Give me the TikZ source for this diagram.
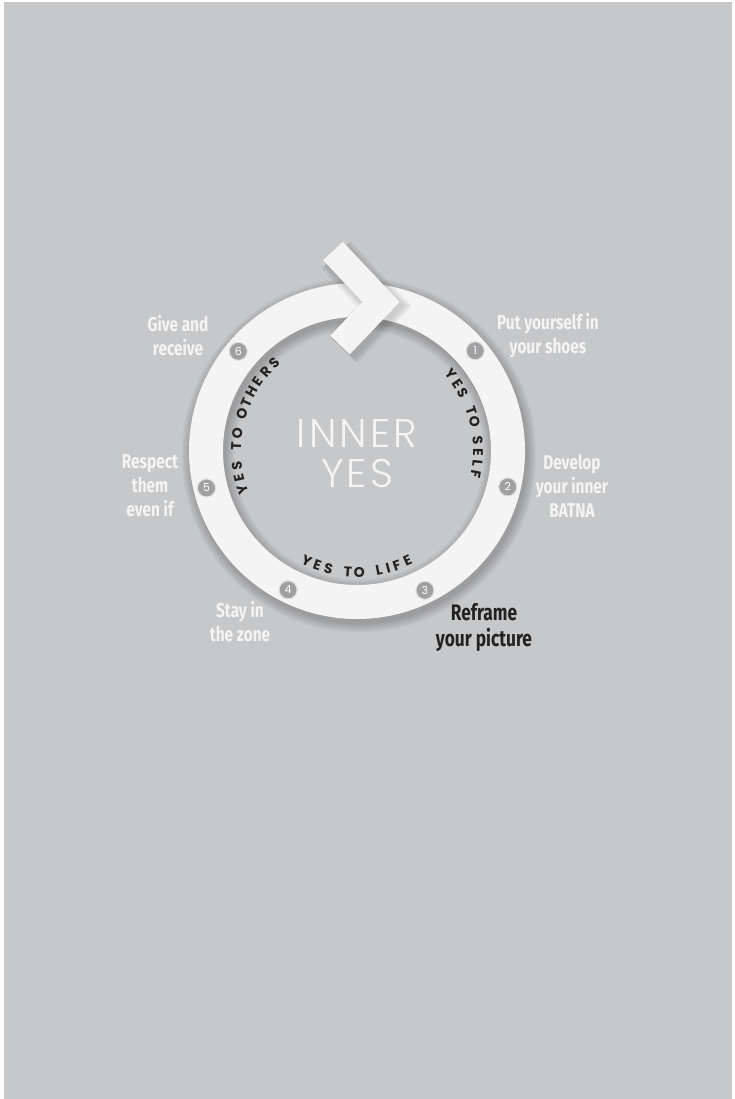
\documentclass[tikz,border=0pt]{standalone}
\usepackage{fontspec}
\setmainfont{Fira Sans}
\newfontfamily\labfont[FakeStretch=0.77]{Fira Sans}
\newfontfamily\thinfont[LetterSpace=8]{Poppins Light}
\newfontfamily\arcfont{Poppins}
\definecolor{bg}{RGB}{199,200,202}
\definecolor{ringwhite}{RGB}{244,244,244}
\definecolor{labwhite}{RGB}{244,244,244}
\definecolor{numgray}{RGB}{160,160,162}
\definecolor{darktext}{RGB}{34,34,34}
\tikzset{
  numdot/.style={circle, fill=numgray, draw=white!65!numgray, line width=1pt, text=white,
    inner sep=0pt, minimum size=18pt, font=\arcfont\fontsize{11}{11}\selectfont},
  lab/.style={text=labwhite, align=center, inner sep=0pt,
    font=\labfont\bfseries\fontsize{20}{24}\selectfont},
  labdark/.style={text=darktext, align=center, inner sep=0pt,
    font=\labfont\bfseries\fontsize{22.5}{26}\selectfont},
  arcl/.style={text=darktext, inner sep=0pt, anchor=center,
    font=\arcfont\bfseries\fontsize{14}{14}\selectfont},
  center/.style={text=labwhite, inner sep=0pt, font=\thinfont\fontsize{40}{42}\selectfont},
  shadowstroke/.style={black, opacity=0.028}
}
\begin{document}
\begin{tikzpicture}[x=1pt,y=1pt]
\useasboundingbox (-357,-648) rectangle (378,451);
\fill[white] (-357,-648) rectangle (378,451);
\fill[bg] (-353,-648) rectangle (375,449);
% ring shadow
\foreach \k in {1,...,8}
  \draw[shadowstroke, line width={33+2.5*\k}] (2,-4) circle (151);
% ring
\draw[ringwhite, line width=34] (0,0) circle (151);
% arrowhead shadow
\foreach \k in {1,...,6}
  \draw[shadowstroke, line width={26+2.5*\k}, line join=miter, shift={(3,-4)}] (-24,200) -- (24,149) -- (-17,106);
% arrowhead
\draw[ringwhite, line width=27, line join=miter] (-24,200) -- (24,149) -- (-17,106);
% numbered dots
\foreach \a/\n in {40.3/1,-13.4/2,-64/3,243.6/4,193.8/5,140/6}
  \node[numdot] (n\n) at (\a:155) {\n};
% labels
\node[lab] (l1) at (191,115) {Put yourself in\\your shoes};
\node[lab] (l2) at (215,-35) {Develop\\your inner\\BATNA};
\node[labdark] (l3) at (127,-176) {Reframe\\your picture};
\node[lab] (l4) at (-117,-171) {Stay in\\the zone};
\node[lab] (l5) at (-207,-35) {Respect\\them\\even if};
\node[lab] (l6) at (-179,115) {Give and\\receive};
% center
\node[center] (inner) at (0,17) {INNER};
\node[center] (yes) at (0,-23) {YES};
% curved texts
\foreach \c/\a [count=\i] in {Y/39.3,E/33.93,S/28.56,T/19.43,O/14.06,S/4.93,E/-0.44,L/-5.81,F/-11.2}
  \node[arcl, rotate={\a-90}] (self\i) at (\a:121) {\c};
\foreach \c/\a [count=\i] in {Y/198.7,E/192.96,S/187.23,T/177.47,O/171.74,O/161.98,T/156.25,H/150.51,E/144.77,R/139.04,S/133.3}
  \node[arcl, rotate={\a-90}] (oth\i) at (\a:121) {\c};
\foreach \c/\a [count=\i] in {Y/245.4,E/250.88,S/256.36,T/265.63,O/271.1,L/280.46,I/284.84,F/289.22,E/294.7}
  \node[arcl, rotate={\a+90}] (life\i) at (\a:121) {\c};
\end{tikzpicture}
\end{document}
